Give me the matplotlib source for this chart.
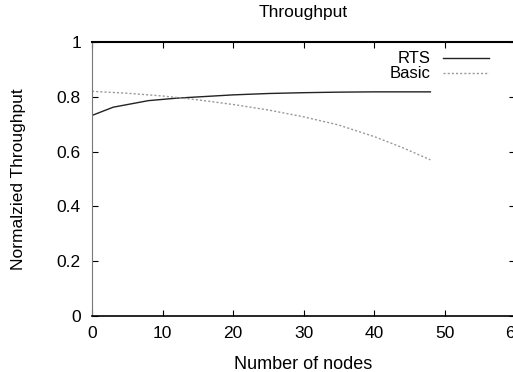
import matplotlib
matplotlib.use("Agg")
import matplotlib.pyplot as plt
from matplotlib.ticker import FuncFormatter

plt.rcParams['font.family'] = ['Liberation Sans', 'DejaVu Sans']

nodes_rts = [0, 3, 8, 12, 16, 20, 25, 30, 35, 40, 44, 48]
rts = [0.732, 0.762, 0.786, 0.795, 0.801, 0.807, 0.812, 0.815, 0.817, 0.818, 0.818, 0.818]
nodes_basic = [0, 5, 10, 15, 20, 25, 30, 35, 40, 44, 48]
basic = [0.820, 0.813, 0.803, 0.789, 0.772, 0.752, 0.727, 0.697, 0.655, 0.615, 0.570]

xticks = [0, 10, 20, 30, 40, 50, 60]
yticks = [0, 0.2, 0.4, 0.6, 0.8, 1.0]

fig = plt.figure(figsize=(5.13, 3.72), dpi=100)
ax = fig.add_axes([92/513, 56/372, 423/513, 274/372])

ax.plot(nodes_rts, rts, color='#222222', lw=1.0, label='RTS')
ax.plot(nodes_basic, basic, color='#999999', lw=1.0, linestyle=(0, (1.5, 1.5)), label='Basic')

ax.set_xlim(0, 60)
ax.set_ylim(0, 1)
ax.set_xticks(xticks)
ax.set_yticks(yticks)
ax.yaxis.set_major_formatter(FuncFormatter(lambda v, p: '%g' % v))
ax.tick_params(direction='in', length=4, width=0.8, top=True, right=True,
               labelsize=12.5, colors='black')
ax.tick_params(axis='y', pad=8)
ax.tick_params(axis='x', pad=7)
ax.spines['left'].set_color('#777777')
ax.spines['left'].set_linewidth(0.8)
ax.spines['bottom'].set_linewidth(1.2)
ax.spines['top'].set_linewidth(1.5)

ax.set_title('Throughput', fontsize=12.5, pad=18)
ax.set_xlabel('Number of nodes', fontsize=13, labelpad=11)
ax.set_ylabel('Normalzied Throughput', fontsize=12.5, labelpad=22)

leg = ax.legend(loc='upper right', bbox_to_anchor=(0.955, 0.99), frameon=False,
                markerfirst=False, fontsize=12, handlelength=2.8,
                handletextpad=0.7, labelspacing=0.0, borderaxespad=0)

fig.savefig('out.png', dpi=100)
